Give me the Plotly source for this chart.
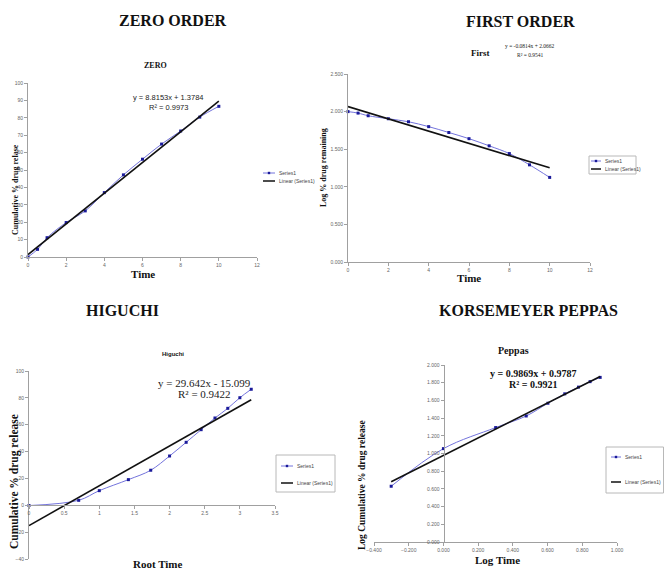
import plotly.graph_objects as go

W, H = 664, 571

# ---------------- data ----------------
time_h = [0, 0.5, 1, 2, 3, 4, 5, 6, 7, 8, 9, 10]
zero_release = [0, 4.4, 11.1, 19.8, 26.5, 37.0, 47.2, 56.2, 64.9, 72.4, 80.4, 86.6]
first_log_remaining = [2.000, 1.980, 1.945, 1.905, 1.865, 1.800, 1.722, 1.640, 1.545, 1.442, 1.292, 1.125]
root_time = [0, 0.707, 1.0, 1.414, 1.732, 2.0, 2.236, 2.449, 2.646, 2.828, 3.0, 3.162]
higuchi_release = [-0.2, 3.7, 10.9, 19.1, 26.1, 36.7, 46.9, 56.3, 65.0, 72.2, 80.1, 86.4]
peppas_log_time = [-0.301, 0.000, 0.301, 0.477, 0.602, 0.699, 0.778, 0.845, 0.903]
peppas_log_release = [0.630, 1.055, 1.293, 1.424, 1.568, 1.674, 1.750, 1.812, 1.860]

# trendline coefficients (slope, intercept) as printed on the chart
zero_fit = [8.8153, 1.3784]
first_fit = [-0.0814, 2.0662]
higuchi_fit = [29.642, -15.099]
peppas_fit = [0.9869, 0.9787]

zero_eq = ["y = 8.8153x + 1.3784", "R² = 0.9973"]
first_eq = ["y = -0.0814x + 2.0662", "R² = 0.9541"]
higuchi_eq = ["y = 29.642x - 15.099", "R² = 0.9422"]
peppas_eq = ["y = 0.9869x + 0.9787", "R² = 0.9921"]

headers = ["ZERO ORDER", "FIRST ORDER", "HIGUCHI", "KORSEMEYER PEPPAS"]
series_name = "Series1"
trend_name = "Linear (Series1)"

# ---------------- styling ----------------
SER_LINE = "#7373dc"
SER_MARK = "#1a1a9a"
TREND = "#111111"
AX = "#a0a0a0"
TICKC = "#666666"
SERIF = "Liberation Serif, Times New Roman, serif"
SANS = "Liberation Sans, Arial, sans-serif"


def fx(p):
    return p / W


def fy(p):
    return 1 - p / H


fig = go.Figure()


def add_panel(xs, ys, fit, xa, ya):
    fig.add_trace(go.Scatter(
        x=xs, y=ys, mode="lines+markers", name=series_name,
        line=dict(color=SER_LINE, width=1, shape="spline", smoothing=1.0),
        marker=dict(color=SER_MARK, size=3, symbol="square"),
        xaxis=xa, yaxis=ya, showlegend=False, cliponaxis=False))
    x0, x1 = min(xs), max(xs)
    fig.add_trace(go.Scatter(
        x=[x0, x1], y=[fit[0] * x0 + fit[1], fit[0] * x1 + fit[1]],
        mode="lines", name=trend_name,
        line=dict(color=TREND, width=1.6),
        xaxis=xa, yaxis=ya, showlegend=False, cliponaxis=False))


add_panel(time_h, zero_release, zero_fit, "x", "y")
add_panel(time_h, first_log_remaining, first_fit, "x2", "y2")
add_panel(root_time, higuchi_release, higuchi_fit, "x3", "y3")
add_panel(peppas_log_time, peppas_log_release, peppas_fit, "x4", "y4")

axis_common = dict(showline=True, linecolor=AX, linewidth=1, ticks="outside",
                   ticklen=3, tickcolor=AX, tickwidth=1, showgrid=False, automargin=False,
                   zeroline=False, tickfont=dict(size=5, color=TICKC, family=SANS))

fig.update_layout(
    xaxis=dict(domain=[fx(28), fx(257)], range=[0, 12], dtick=2, anchor="y", **axis_common),
    yaxis=dict(domain=[fy(257), fy(83)], range=[0, 100], dtick=10, anchor="x", **axis_common),
    xaxis2=dict(domain=[fx(348), fx(590)], range=[0, 12], dtick=2, anchor="y2", **axis_common),
    yaxis2=dict(domain=[fy(262), fy(74)], range=[0, 2.5], dtick=0.5, tickformat=".3f",
                anchor="x2", **axis_common),
    xaxis3=dict(domain=[fx(29), fx(275)], range=[0, 3.5], dtick=0.5, anchor="free",
                position=fy(505), **axis_common),
    yaxis3=dict(domain=[fy(559), fy(371)], range=[-40, 100], dtick=20, anchor="x3", **axis_common),
    xaxis4=dict(domain=[fx(374), fx(617)], range=[-0.4, 1.0], dtick=0.2, tickformat=".3f",
                anchor="y4", **axis_common),
    yaxis4=dict(domain=[fy(542), fy(365)], range=[0, 2.0], dtick=0.2, tickformat=".3f",
                anchor="free", position=fx(443.5), **axis_common),
    width=W, height=H, margin=dict(l=0, r=0, t=0, b=0, autoexpand=False),
    plot_bgcolor="white", paper_bgcolor="white", showlegend=False,
)

ann = []


def text(x, y, s, size, family=SERIF, bold=False, color="#111", angle=0, xanchor="center"):
    if bold:
        s = "<b>" + s + "</b>"
    ann.append(dict(x=fx(x), y=fy(y), xref="paper", yref="paper", text=s, showarrow=False,
                    font=dict(size=size, family=family, color=color), textangle=angle,
                    xanchor=xanchor, yanchor="middle"))


# headers
text(173, 20, headers[0], 16, bold=True)
text(520, 22, headers[1], 16, bold=True)
text(122, 310, headers[2], 16, bold=True)
text(528, 310, headers[3], 16, bold=True)

# chart titles
text(155, 66, "ZERO", 8, bold=True)
text(480, 53, "First", 9, bold=True)
text(173, 354, "Higuchi", 6, family=SANS, bold=True)
text(513, 350, "Peppas", 10, bold=True)

# equations
text(168, 98, zero_eq[0], 7.5, family=SANS, color="#222")
text(168, 107, zero_eq[1], 7.5, family=SANS, color="#222")
text(530, 46, first_eq[0], 5.5, color="#222")
text(530, 55, first_eq[1], 5.5, color="#222")
text(204, 383, higuchi_eq[0], 11, color="#222")
text(204, 394, higuchi_eq[1], 11, color="#222")
text(533, 373, peppas_eq[0], 10, bold=True)
text(533, 384, peppas_eq[1], 10, bold=True)

# axis titles
text(143, 274, "Time", 11, bold=True)
text(469, 278, "Time", 11, bold=True)
text(158, 564, "Root Time", 11, bold=True)
text(497, 560, "Log Time", 11, bold=True)
text(15, 190, "Cumulative % drug relase", 8, bold=True, angle=-90)
text(323, 168, "Log % drug remaining", 8, bold=True, angle=-90)
text(14, 482, "Cumulative % drug release", 11.5, bold=True, angle=-90)
text(362, 485, "Log Cumulative % drug release", 9.5, bold=True, angle=-90)

shapes = []


def legend(x, y1, y2, w=12, box=None):
    # box: (x0, y0, x1, y1) pixel coords
    if box:
        shapes.append(dict(type="rect", xref="paper", yref="paper",
                           x0=fx(box[0]), y0=fy(box[1]), x1=fx(box[2]), y1=fy(box[3]),
                           line=dict(color="#b8b8b8", width=1), fillcolor="white", layer="above"))
    shapes.append(dict(type="line", xref="paper", yref="paper", x0=fx(x), x1=fx(x + w),
                       y0=fy(y1), y1=fy(y1), line=dict(color=SER_LINE, width=1), layer="above"))
    shapes.append(dict(type="rect", xref="paper", yref="paper", x0=fx(x + w / 2 - 1.2),
                       x1=fx(x + w / 2 + 1.2), y0=fy(y1 - 1.2), y1=fy(y1 + 1.2),
                       line=dict(width=0), fillcolor=SER_MARK, layer="above"))
    shapes.append(dict(type="line", xref="paper", yref="paper", x0=fx(x), x1=fx(x + w),
                       y0=fy(y2), y1=fy(y2), line=dict(color=TREND, width=1.5), layer="above"))
    text(x + w + 2, y1, series_name, 5, family=SANS, color="#444", xanchor="left")
    text(x + w + 2, y2, trend_name, 5, family=SANS, color="#444", xanchor="left")


legend(263, 173, 181)
legend(591, 161, 169, w=10, box=(589, 156, 636, 174))
legend(281, 466, 483, box=(276, 455, 335, 492))
legend(611, 457, 482, w=10, box=(606, 447, 663.5, 493))

fig.update_layout(annotations=ann, shapes=shapes)
fig.write_html("out.html", config={"displayModeBar": False},
               post_script="document.body.style.margin='0';document.body.style.overflow='hidden';")
